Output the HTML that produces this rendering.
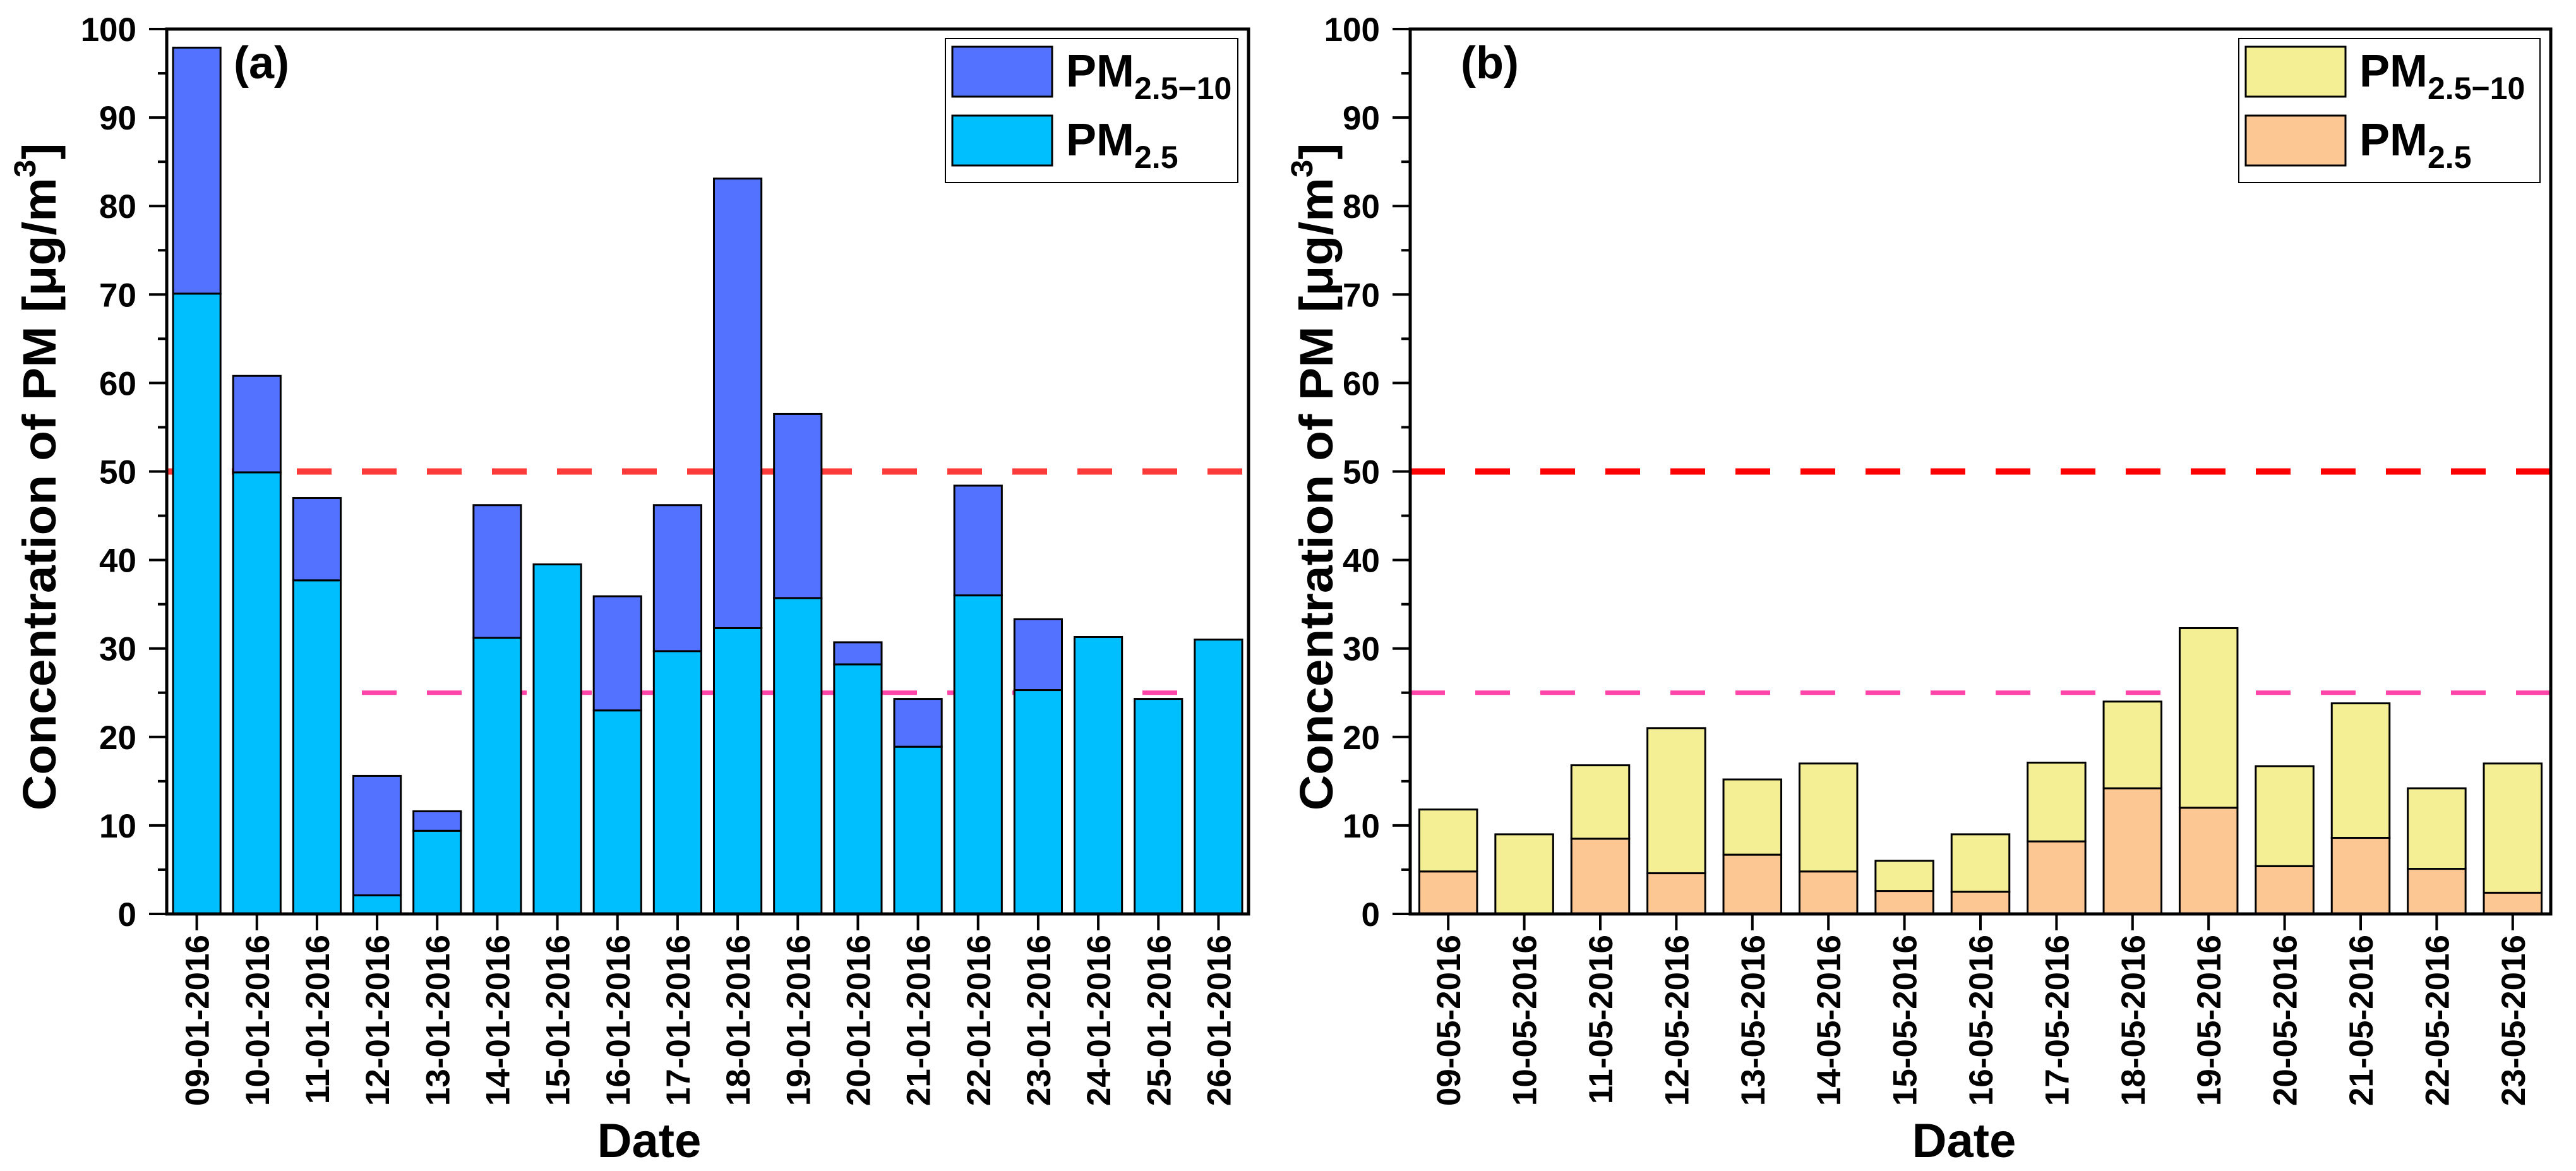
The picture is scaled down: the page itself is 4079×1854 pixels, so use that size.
<!DOCTYPE html>
<html><head><meta charset="utf-8"><style>
html,body{margin:0;padding:0;background:#fff}
svg{display:block}
text{font-family:"Liberation Sans",Arial,sans-serif;font-weight:bold;fill:#000}
</style></head><body>
<svg id="chart" xmlns="http://www.w3.org/2000/svg" width="4079" height="1854" viewBox="0 0 4079 1854">
<g id="pa"></g>
<g id="pb"></g>
</svg>
<script>
const yTicks = [0,10,20,30,40,50,60,70,80,90,100];
const datesA = ["09-01-2016","10-01-2016","11-01-2016","12-01-2016","13-01-2016","14-01-2016","15-01-2016","16-01-2016","17-01-2016","18-01-2016","19-01-2016","20-01-2016","21-01-2016","22-01-2016","23-01-2016","24-01-2016","25-01-2016","26-01-2016"];
const pm25A = [70.1,49.9,37.7,2.1,9.4,31.2,39.5,23.0,29.7,32.3,35.7,28.2,18.9,36.0,25.3,31.3,24.3,31.0];
const coarseA = [27.8,10.9,9.3,13.5,2.2,15.0,0,12.9,16.5,50.8,20.8,2.5,5.4,12.4,8.0,0,0,0];
const datesB = ["09-05-2016","10-05-2016","11-05-2016","12-05-2016","13-05-2016","14-05-2016","15-05-2016","16-05-2016","17-05-2016","18-05-2016","19-05-2016","20-05-2016","21-05-2016","22-05-2016","23-05-2016"];
const pm25B = [4.8,0,8.5,4.6,6.7,4.8,2.6,2.5,8.2,14.2,12.0,5.4,8.6,5.1,2.4];
const coarseB = [7.0,9.0,8.3,16.4,8.5,12.2,3.4,6.5,8.9,9.8,20.3,11.3,15.2,9.1,14.6];
const limitLines = [50,25];

const NS="http://www.w3.org/2000/svg";
function mk(parent,tag,attrs,txt){const e=document.createElementNS(NS,tag);for(const k in attrs)e.setAttribute(k,attrs[k]);if(txt!==undefined)e.textContent=txt;parent.appendChild(e);return e;}

function panel(g,cfg){
  const L=cfg.left,R=cfg.right,T=46,B=1447;
  const y=v=>B-(v/100)*(B-T);
  const n=cfg.dates.length,band=(R-L)/n;
  const x=i=>L+band*(i+0.5);
  const l1=mk(g,'line',{x1:L,x2:R,y1:y(limitLines[0]),y2:y(limitLines[0]),stroke:cfg.red,'stroke-width':10,'stroke-dasharray':'55 48'});
  
  
  const l2=mk(g,'line',{x1:cfg.pinkStart,x2:R,y1:y(limitLines[1]),y2:y(limitLines[1]),stroke:'#ff44aa','stroke-width':7,'stroke-dasharray':'55 48'});
  
  
  const bw=band*cfg.bw;
  for(let i=0;i<n;i++){
    const a=cfg.pm25[i],c=cfg.coarse[i];
    const r1=mk(g,'rect',{x:x(i)-bw/2,y:y(a),width:bw,height:y(0)-y(a),fill:cfg.c1,stroke:'#000','stroke-width':3});
    
    
    if(c>0){
      const r2=mk(g,'rect',{x:x(i)-bw/2,y:y(a+c),width:bw,height:y(a)-y(a+c),fill:cfg.c2,stroke:'#000','stroke-width':3});
      
      
    }
    const tk=mk(g,'line',{x1:x(i),x2:x(i),y1:B,y2:B+26,stroke:'#000','stroke-width':4});
    
    
    const lb=mk(g,'text',{transform:`translate(${x(i)+19},1480) rotate(-90)`,'font-size':53,'text-anchor':'end'},cfg.dates[i]);
    
    
  }
  const bx=mk(g,'rect',{x:L,y:T,width:R-L,height:B-T,fill:'none',stroke:'#000','stroke-width':5});
  
  
  yTicks.forEach((v,k)=>{
    const t=mk(g,'line',{x1:L-28,x2:L,y1:y(v),y2:y(v),stroke:'#000','stroke-width':4});
    
    
    if(k<yTicks.length-1){
      const m=mk(g,'line',{x1:L-14,x2:L,y1:y(v+5),y2:y(v+5),stroke:'#000','stroke-width':4});
      
      
    }
    const tl=mk(g,'text',{x:L-48,y:y(v)+19,'font-size':53,'text-anchor':'end'},String(v));
    
    
  });
  const yt=mk(g,'text',{transform:`translate(${cfg.ytx},755) rotate(-90) scale(1.06,1)`,'font-size':74,'text-anchor':'middle'});
  
  
  yt.appendChild(document.createTextNode('Concentration of PM [μg/m'));
  mk(yt,'tspan',{'font-size':48,dy:-32},'3');
  mk(yt,'tspan',{dy:32},']');
  const xt=mk(g,'text',{x:cfg.dateX,y:1832,'font-size':76,'text-anchor':'middle'},'Date');
  
  
  const pl=mk(g,'text',{x:cfg.labX,y:124,'font-size':72},cfg.label);
  
  
  const lg=mk(g,'g',{});
  
  
  const lx=cfg.legX;
  mk(lg,'rect',{x:lx,y:61,width:R-17-lx,height:228,fill:'#fff',stroke:'#000','stroke-width':2});
  [[cfg.c2,'2.5−10',74],[cfg.c1,'2.5',183]].forEach(([col,sub,yy])=>{
    const e=mk(lg,'g',{});
    
    
    mk(e,'rect',{x:lx+11,y:yy,width:158,height:79,fill:col,stroke:'#000','stroke-width':3});
    const t=mk(e,'text',{x:lx+191,y:yy+63,'font-size':72},'PM');
    mk(t,'tspan',{'font-size':50,dy:20},sub);
  });
}
panel(document.getElementById('pa'),{left:264,right:1977,dates:datesA,pm25:pm25A,coarse:coarseA,c1:'#00bfff',c2:'#5272ff',red:'#ff3a3a',pinkStart:573,bw:0.79,ytx:88,dateX:1028,labX:370,label:'(a)',legX:1497});
panel(document.getElementById('pb'),{left:2233,right:4039,dates:datesB,pm25:pm25B,coarse:coarseB,c1:'#fdc794',c2:'#f4ee95',red:'#ff0000',pinkStart:2233,bw:0.76,ytx:2110,dateX:3110,labX:2313,label:'(b)',legX:3545});
</script>
</body></html>
